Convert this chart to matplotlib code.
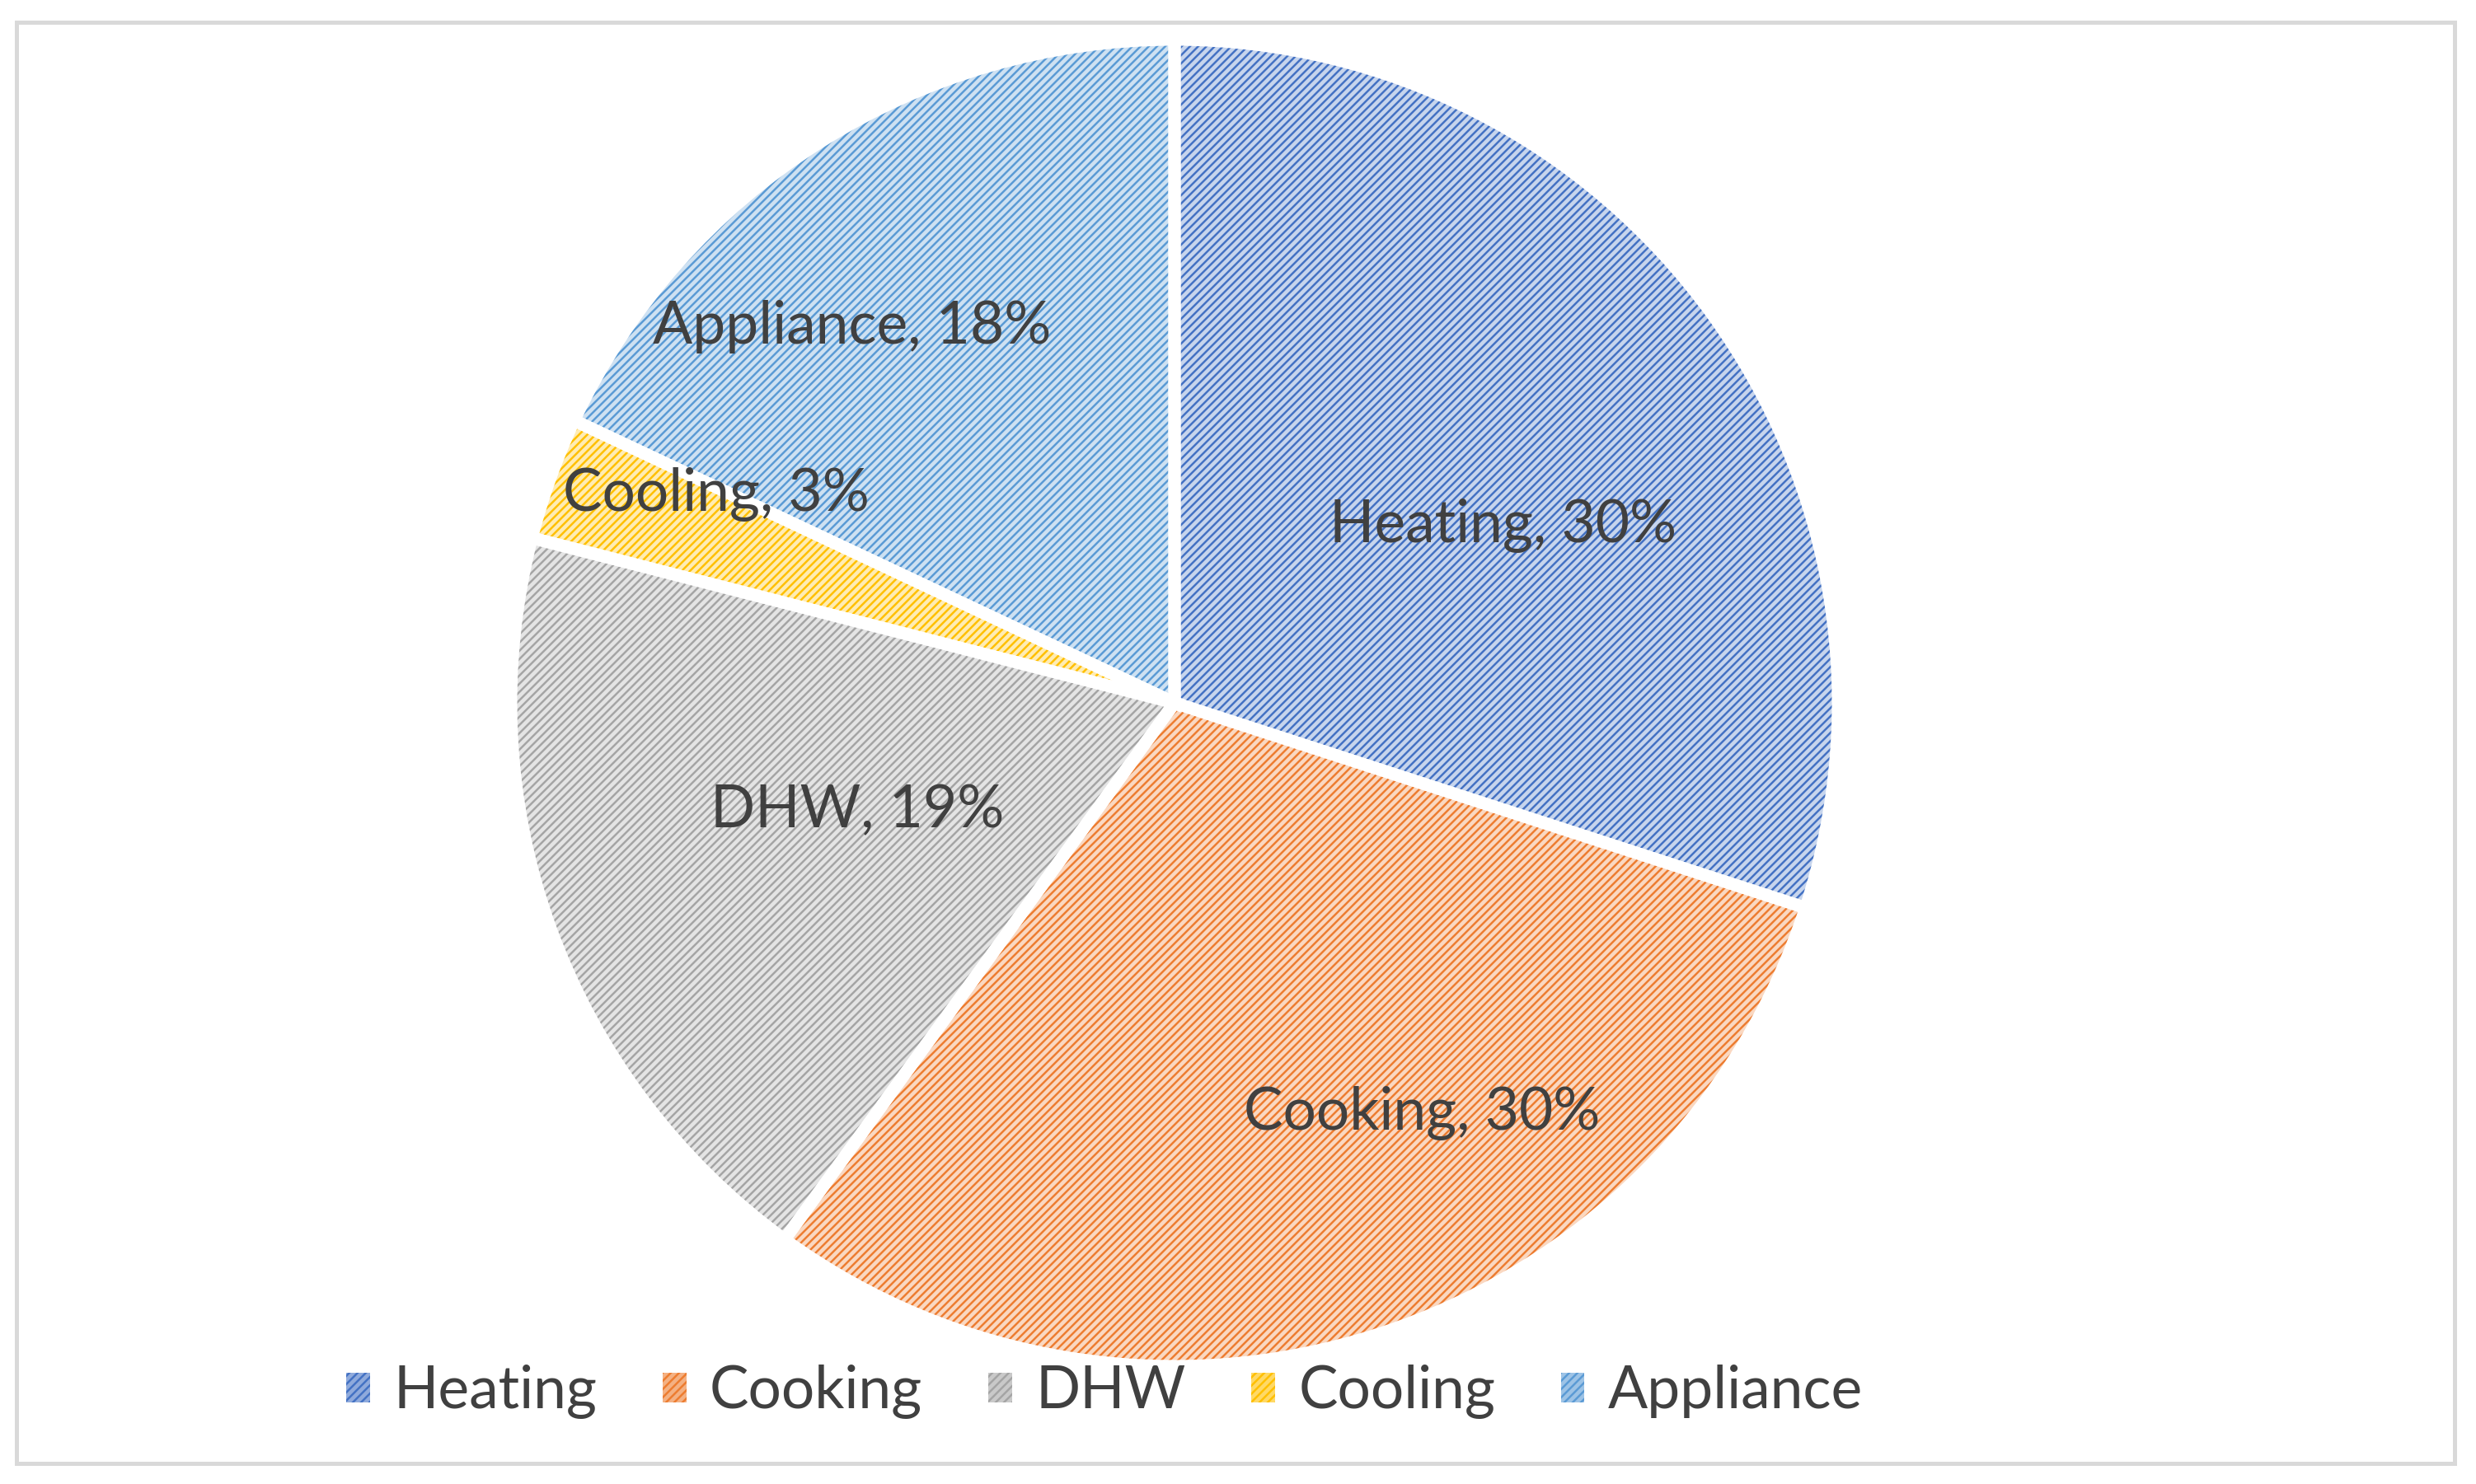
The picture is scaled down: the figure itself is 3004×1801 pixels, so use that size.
import matplotlib.pyplot as plt
from matplotlib.patches import Patch, Rectangle
from matplotlib.colors import to_rgb
import numpy as np

# energy use shares
categories = ['Heating', 'Cooking', 'DHW', 'Cooling', 'Appliance']
shares = [30, 30, 19, 3, 18]
colors = ['#4472C4', '#ED7D31', '#A5A5A5', '#FFC000', '#5B9BD5']

# label anchor points (axes fraction), picked by eye like Excel's best fit
label_pos = [(0.607, 0.646), (0.574, 0.250), (0.346, 0.454), (0.289, 0.667), (0.344, 0.780)]

W, H, dpi = 3005, 1801, 90
plt.rcParams['font.family'] = ['Lato', 'DejaVu Sans']
plt.rcParams['hatch.linewidth'] = 2.0
txt = '#404040'

def tint(c, k=0.3):
    r = np.array(to_rgb(c))
    return tuple(1 - k * (1 - r))

fig = plt.figure(figsize=(W / dpi, H / dpi), dpi=dpi)
ax = fig.add_axes([0, 0, 1, 1])

cx, cy, rad = 1425, H - 853, 805

wedges, _ = ax.pie(shares, colors=[tint(c) for c in colors], startangle=90, counterclock=False,
                   center=(cx, cy), radius=rad, frame=True)
for w, c in zip(wedges, colors):
    w.set_edgecolor(c)
    w.set_hatch('///')
    w.set_linewidth(0)
# white gaps between slices
ax.pie(shares, colors=['none'] * 5, startangle=90, counterclock=False,
       center=(cx, cy), radius=rad, frame=True,
       wedgeprops=dict(edgecolor='white', linewidth=12))
ax.set_xlim(0, W)
ax.set_ylim(0, H)
ax.axis('off')

for cat, s, (x, y) in zip(categories, shares, label_pos):
    ax.text(x, y, f'{cat}, {s}%', transform=ax.transAxes, ha='center', va='center',
            fontsize=57, color=txt)

handles = [Patch(facecolor=tint(c, 0.6), edgecolor=c, hatch='///', linewidth=0) for c in colors]
fig.legend(handles, categories, loc='center', bbox_to_anchor=(0.446, 0.062), ncol=5,
           frameon=False, fontsize=57, labelcolor=txt, handlelength=0.4, handleheight=0.4,
           handletextpad=0.4, columnspacing=1.12)

fig.patches.append(Rectangle((20 / W, 1 - 1776 / H), 2958 / W, 1749 / H, transform=fig.transFigure,
                             fill=False, edgecolor='#d9d9d9', linewidth=4))

fig.savefig('out.png', dpi=dpi)
